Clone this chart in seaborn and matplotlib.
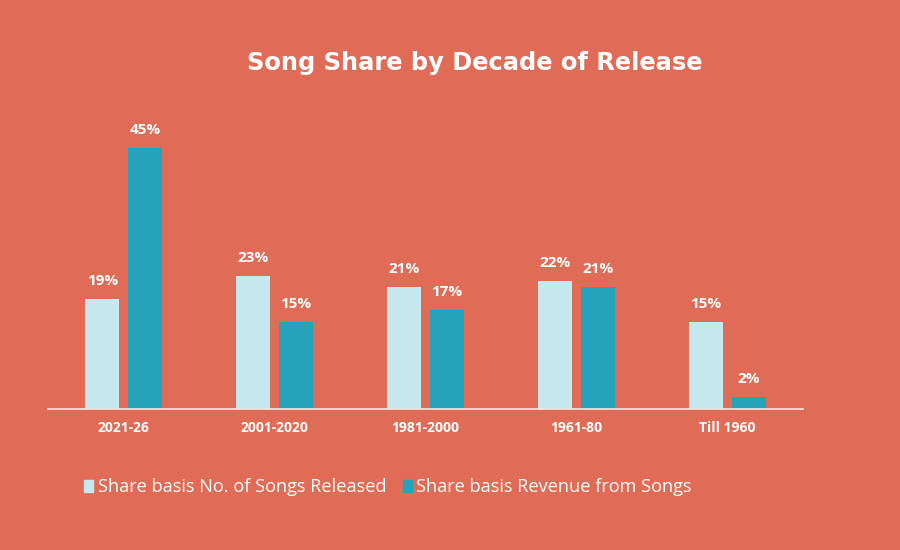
import pandas as pd
import matplotlib.pyplot as plt
import seaborn as sns

# chart data
decades = ['2021-26', '2001-2020', '1981-2000', '1961-80', 'Till 1960']
songs_share = [19, 23, 21, 22, 15]
revenue_share = [45, 15, 17, 21, 2]
series_names = ['Share basis No. of Songs Released', 'Share basis Revenue from Songs']

df = pd.DataFrame({
    'Decade': decades * 2,
    'Share': songs_share + revenue_share,
    'Series': [series_names[0]] * len(decades) + [series_names[1]] * len(decades),
})

bg = '#E06C57'
light = '#C6E9EF'
dark = '#26A3BB'

sns.set_theme(style='white')
plt.rcParams['font.family'] = ['Open Sans', 'DejaVu Sans']

fig = plt.figure(figsize=(9, 5.5), dpi=100, facecolor=bg)
ax = fig.add_axes([0.0533, 0.2564, 0.839, 0.527])
ax.set_facecolor(bg)

sns.barplot(data=df, x='Decade', y='Share', hue='Series', order=decades,
            hue_order=series_names, palette=[light, dark], width=0.57, gap=0.21,
            saturation=1, linewidth=0, ax=ax, legend=False)

for cont in ax.containers:
    ax.bar_label(cont, labels=[f'{v:.0f}%' for v in cont.datavalues], padding=8,
                 color='white', fontsize=11, fontweight='bold')

ax.set_ylim(0, 50)
ax.set_xlim(-0.503, 4.503)
ax.set_xlabel('')
ax.set_ylabel('')
ax.set_yticks([])
ax.tick_params(axis='x', length=0, pad=9, colors='white', labelsize=10)
for lbl in ax.get_xticklabels():
    lbl.set_fontweight('bold')
for s in ['top', 'right', 'left']:
    ax.spines[s].set_visible(False)
ax.spines['bottom'].set_color('#F6E6E1')
ax.spines['bottom'].set_linewidth(1.2)

fig.text(0.527, 0.885, 'Song Share by Decade of Release', ha='center', va='center',
         color='white', fontsize=17.4, fontweight='bold', family='DejaVu Sans')

handles = [plt.Rectangle((0, 0), 1, 1, color=c) for c in [light, dark]]
fig.legend(handles, series_names, loc='center left', bbox_to_anchor=(0.075, 0.114),
           ncol=2, frameon=False, fontsize=13.1, labelcolor='white',
           handlelength=0.5, handleheight=0.7, handletextpad=0.25, columnspacing=0.9)

fig.savefig('out.png', dpi=100, facecolor=bg)
